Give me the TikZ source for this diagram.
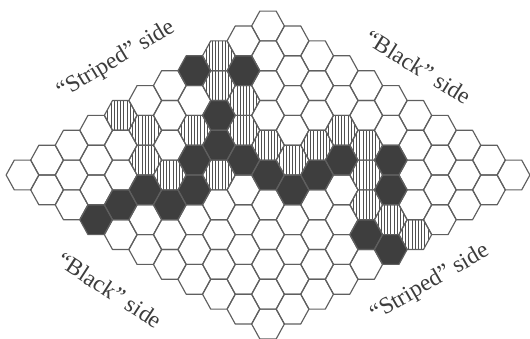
\documentclass[tikz,border=0pt]{standalone}
\usepackage{fontspec}
\setmainfont{Liberation Serif}
\definecolor{hexline}{RGB}{95,95,95}
\definecolor{darkcell}{RGB}{62,62,62}
\definecolor{stripe}{RGB}{80,80,80}
\definecolor{labelcol}{RGB}{60,60,60}
\newcommand{\hexshape}{(16.37,0) -- (8.185,14.9) -- (-8.185,14.9) -- (-16.37,0) -- (-8.185,-14.9) -- (8.185,-14.9) -- cycle}
\newcommand{\hexcenter}[2]{\pgfmathsetmacro\hx{268+24.55*(#1)}\pgfmathsetmacro\hy{-(26+14.9*(#2))}}
\begin{document}
\begin{tikzpicture}[x=1pt,y=1pt,
  hexcell/.style={draw=hexline, line width=1.15pt, line join=round},
  stripeline/.style={draw=stripe, line width=0.9pt},
  sidelabel/.style={text=labelcol, font=\fontsize{23.5}{27}\selectfont, inner sep=0pt}]
\useasboundingbox (0,0) rectangle (530,-338);
% dark cells (column c, row s)
\foreach \c/\s in {-3/3,-1/3,-2/6,-2/8,-3/9,-1/9,-3/11,-4/12,-5/11,-6/12,-7/13,0/10,1/11,2/10,3/9,5/9,5/11,4/14,5/15}{
  \hexcenter{\c}{\s}
  \fill[darkcell, shift={(\hx,\hy)}] \hexshape;
}
% striped cells
\foreach \c/\s in {-2/2,-2/4,-1/5,-1/7,0/8,1/9,2/8,3/7,4/8,4/10,4/12,5/13,6/14,-6/6,-5/7,-5/9,-4/10,-3/7,-2/10}{
  \hexcenter{\c}{\s}
  \begin{scope}[shift={(\hx,\hy)}]
    \clip \hexshape;
    \foreach \k in {-5,...,5}{
      \draw[stripeline] (\k*3.2,-16) -- (\k*3.2,16);
    }
  \end{scope}
}
% grid outlines
\foreach \i in {0,...,10}{
  \foreach \j in {0,...,10}{
    \hexcenter{\i-\j}{\i+\j}
    \draw[hexcell, shift={(\hx,\hy)}] \hexshape;
  }
}
% side labels
\node[sidelabel, rotate=31] (tl) at (116,-60) {“Striped” side};
\node[sidelabel, rotate=-32] (tr) at (418,-67) {“Black” side};
\node[sidelabel, rotate=-33] (bl) at (110,-290) {“Black” side};
\node[sidelabel, rotate=30] (br) at (430,-283) {“Striped” side};
\end{tikzpicture}
\end{document}
